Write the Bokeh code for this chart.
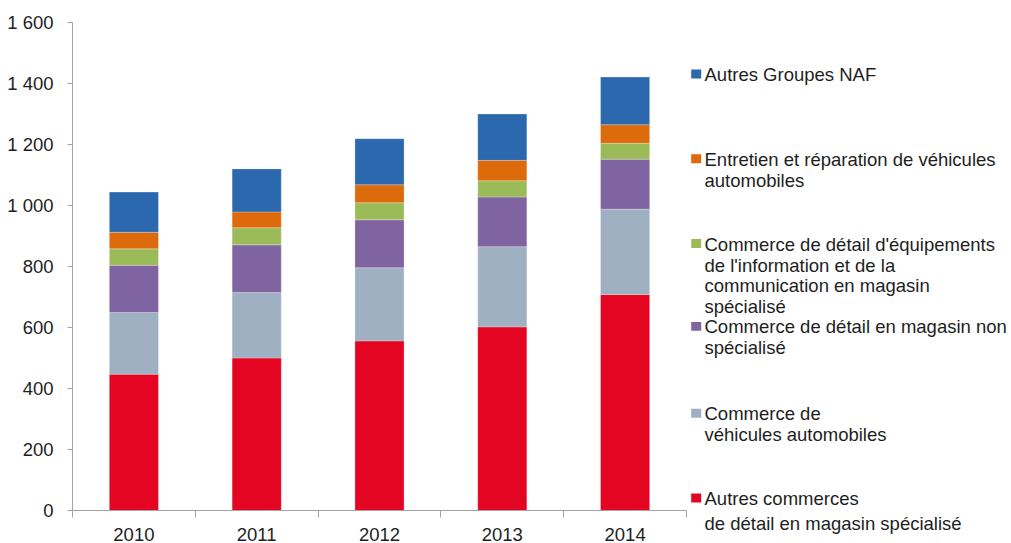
from bokeh.plotting import figure
from bokeh.models import Range1d, FixedTicker, ColumnDataSource, Title
from bokeh.layouts import row
from bokeh.embed import file_html
from bokeh.resources import INLINE
from bokeh.core.properties import value

# ---------------- data ----------------
years = ["2010", "2011", "2012", "2013", "2014"]
autres_commerces = [447, 500, 556, 602, 708]      # Autres commerces de détail en magasin spécialisé
vehicules = [202, 215, 240, 263, 280]             # Commerce de véhicules automobiles
non_specialise = [155, 156, 157, 163, 164]        # Commerce de détail en magasin non spécialisé
equipements_info = [54, 56, 56, 53, 52]           # Commerce de détail d'équipements de l'information...
entretien = [54, 52, 59, 67, 61]                  # Entretien et réparation de véhicules automobiles
autres_groupes = [132, 141, 151, 152, 156]        # Autres Groupes NAF

y_ticks = [0, 200, 400, 600, 800, 1000, 1200, 1400, 1600]
y_tick_labels = ["0", "200", "400", "600", "800", "1 000", "1 200", "1 400", "1 600"]

series_keys = ["autres_commerces", "vehicules", "non_specialise",
               "equipements_info", "entretien", "autres_groupes"]
series_values = [autres_commerces, vehicules, non_specialise,
                 equipements_info, entretien, autres_groupes]
series_colors = ["#E30522", "#9EB0C2", "#8064A1", "#9BBB59", "#DD6A0B", "#2C68AE"]
series_labels = [
    ["Autres commerces", "de détail en magasin spécialisé"],
    ["Commerce de", "véhicules automobiles"],
    ["Commerce de détail en magasin non", "spécialisé"],
    ["Commerce de détail d'équipements", "de l'information et de la",
     "communication en magasin", "spécialisé"],
    ["Entretien et réparation de véhicules", "automobiles"],
    ["Autres Groupes NAF"],
]

FONT = "Liberation Sans"
FONT_SIZE = "18.5px"
TEXT_COLOR = "#1e1e1e"
AXIS_COLOR = "#a3a3a3"
H = 543
TOP, BOTTOM_BORDER = 22, 32          # chart frame: page y 22 .. 511

# ---------------- chart ----------------
x_idx = list(range(len(years)))
data = {"x": x_idx}
for k, v in zip(series_keys, series_values):
    data[k] = v
src = ColumnDataSource(data)

p = figure(width=690, height=H, output_backend="svg", toolbar_location=None,
           x_range=Range1d(-0.5, len(years) - 0.5), y_range=Range1d(0, 1600),
           min_border_left=72, min_border_right=4, min_border_top=TOP,
           min_border_bottom=BOTTOM_BORDER)
p.vbar_stack(series_keys, x="x", width=0.4, color=series_colors, source=src,
             line_color="white", line_width=0.5, line_alpha=0.5)

p.xgrid.visible = False
p.ygrid.visible = False
p.outline_line_color = None

# y axis
p.yaxis.ticker = FixedTicker(ticks=y_ticks)
p.yaxis.major_label_overrides = {t: l for t, l in zip(y_ticks, y_tick_labels)}
p.yaxis.axis_line_color = AXIS_COLOR
p.yaxis.major_tick_line_color = AXIS_COLOR
p.yaxis.major_tick_in = 0
p.yaxis.major_tick_out = 5
p.yaxis.minor_tick_line_color = None
p.yaxis.major_label_standoff = 14
p.yaxis.major_label_text_font = FONT
p.yaxis.major_label_text_font_size = FONT_SIZE
p.yaxis.major_label_text_color = TEXT_COLOR

# x axis: labels at centres, ticks at category boundaries
bounds = [i - 0.5 for i in range(len(years) + 1)]
p.xaxis.ticker = FixedTicker(ticks=x_idx, minor_ticks=bounds)
p.xaxis.major_label_overrides = {i: y for i, y in zip(x_idx, years)}
p.xaxis.axis_line_color = AXIS_COLOR
p.xaxis.major_tick_line_color = None
p.xaxis.major_tick_in = 0
p.xaxis.major_tick_out = 0
p.xaxis.minor_tick_line_color = AXIS_COLOR
p.xaxis.minor_tick_in = 0
p.xaxis.minor_tick_out = 7
p.xaxis.major_label_standoff = 10
p.xaxis.major_label_text_font = FONT
p.xaxis.major_label_text_font_size = FONT_SIZE
p.xaxis.major_label_text_color = TEXT_COLOR

# ---------------- legend panel ----------------
# its frame is aligned with the chart frame (page y 22..511), so map page pixels directly
LW = 321
FRAME_BOTTOM = H - BOTTOM_BORDER
leg = figure(width=LW, height=H, output_backend="svg", toolbar_location=None,
             x_range=Range1d(0, LW), y_range=Range1d(FRAME_BOTTOM, TOP),
             x_axis_type=None, y_axis_type=None, min_border=0)
leg.xgrid.visible = False
leg.ygrid.visible = False
leg.outline_line_color = None

legend_baselines = [80, 165, 250, 333, 420, 505]   # page y of first line, top to bottom
line_step = 21
text_shift = -6
sq_x, text_x = 5.7, 14

order = list(range(len(series_keys)))[::-1]
sq_xs, sq_ys, sq_cols = [], [], []
tx, ty, tt = [], [], []
below_lines = []
for pos, si in enumerate(order):
    b = legend_baselines[pos]
    sq_xs.append(sq_x)
    sq_ys.append(b - 6.5)
    sq_cols.append(series_colors[si])
    for li, line in enumerate(series_labels[si]):
        yb = b + li * line_step
        if yb + 5 > FRAME_BOTTOM:
            below_lines.append(line)      # would be clipped by the frame
        else:
            tx.append(text_x)
            ty.append(yb + text_shift)
            tt.append(line)

leg.rect(x=sq_xs, y=sq_ys, width=10, height=9, fill_color=sq_cols, line_color=None)
leg.text(x=tx, y=ty, text=tt, text_font=value(FONT), text_font_size=FONT_SIZE,
         text_baseline="alphabetic", text_align="left", text_color=TEXT_COLOR)

for line in below_lines:
    leg.add_layout(Title(text=line, align="left", offset=text_x, standoff=0,
                         text_font=FONT, text_font_size=FONT_SIZE,
                         text_font_style="normal", text_color=TEXT_COLOR), "below")

open("out.html", "w").write(file_html(row(p, leg), INLINE))
